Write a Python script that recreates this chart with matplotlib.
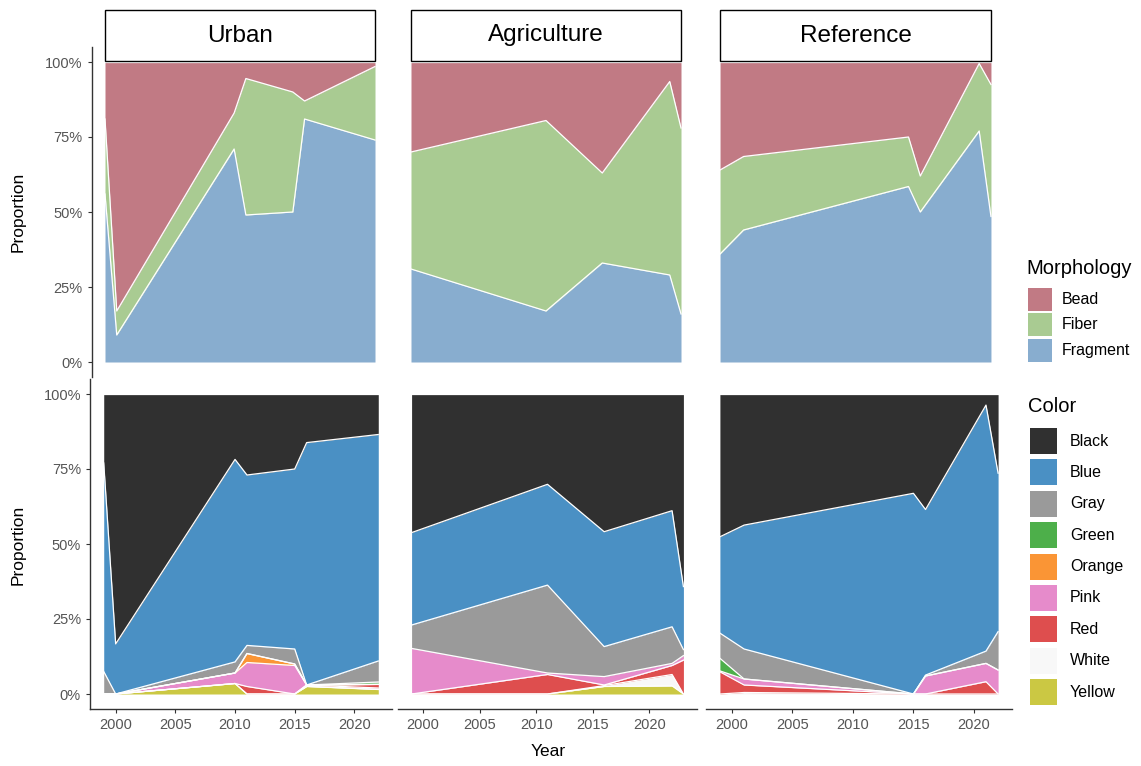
import numpy as np
import matplotlib
matplotlib.use("Agg")
import matplotlib.pyplot as plt
from matplotlib.patches import Rectangle
from matplotlib.transforms import blended_transform_factory

plt.rcParams['font.family'] = ['Liberation Sans', 'DejaVu Sans']

W, H = 1141, 766

sites = ["Urban", "Agriculture", "Reference"]

# morphology proportions per site
urban_years = [1999, 2000, 2010, 2011, 2015, 2016, 2022]
urban_fragment = [0.56, 0.09, 0.71, 0.49, 0.50, 0.81, 0.74]
urban_fiber = [0.25, 0.08, 0.12, 0.455, 0.40, 0.06, 0.245]
urban_bead = [0.19, 0.83, 0.17, 0.055, 0.10, 0.13, 0.015]

agri_years = [1999, 2011, 2016, 2022, 2023]
agri_fragment = [0.31, 0.17, 0.33, 0.29, 0.16]
agri_fiber = [0.39, 0.635, 0.30, 0.645, 0.62]
agri_bead = [0.30, 0.195, 0.37, 0.065, 0.22]

ref_years = [1999, 2001, 2015, 2016, 2021, 2022]
ref_fragment = [0.36, 0.44, 0.585, 0.50, 0.77, 0.485]
ref_fiber = [0.28, 0.245, 0.165, 0.12, 0.225, 0.44]
ref_bead = [0.36, 0.315, 0.25, 0.38, 0.005, 0.075]

morph_names = ["Bead", "Fiber", "Fragment"]
morph_colors = ["#C17A84", "#A9CB92", "#88ADCF"]

# color proportions per site (legend order: Black ... Yellow)
color_names = ["Black", "Blue", "Gray", "Green", "Orange", "Pink", "Red", "White", "Yellow"]
color_colors = ["#303030", "#4A90C4", "#9A9A9A", "#4DAF4A", "#FA9535",
                "#E68BCB", "#DE4E4E", "#F8F8F8", "#CBC843"]

urban_col = {
    "Black":  [0.23, 0.833, 0.218, 0.27, 0.25, 0.162, 0.135],
    "Blue":   [0.695, 0.167, 0.675, 0.568, 0.60, 0.808, 0.755],
    "Gray":   [0.075, 0, 0.037, 0.027, 0.05, 0, 0.07],
    "Green":  [0, 0, 0, 0, 0, 0, 0.008],
    "Orange": [0, 0, 0, 0.03, 0.005, 0, 0],
    "Pink":   [0, 0, 0.035, 0.08, 0.095, 0, 0],
    "Red":    [0, 0, 0, 0.025, 0, 0, 0.012],
    "White":  [0, 0, 0, 0, 0, 0.005, 0.005],
    "Yellow": [0, 0, 0.035, 0, 0, 0.025, 0.015],
}
agri_col = {
    "Black":  [0.462, 0.301, 0.459, 0.389, 0.642],
    "Blue":   [0.308, 0.336, 0.383, 0.387, 0.21],
    "Gray":   [0.078, 0.293, 0.10, 0.122, 0.02],
    "Green":  [0, 0, 0, 0, 0],
    "Orange": [0, 0, 0, 0, 0],
    "Pink":   [0.152, 0.005, 0.028, 0.007, 0.015],
    "Red":    [0, 0.065, 0.002, 0.03, 0.113],
    "White":  [0, 0, 0.003, 0.038, 0],
    "Yellow": [0, 0, 0.025, 0.027, 0],
}
ref_col = {
    "Black":  [0.476, 0.437, 0.331, 0.385, 0.037, 0.264],
    "Blue":   [0.321, 0.413, 0.669, 0.552, 0.82, 0.528],
    "Gray":   [0.084, 0.10, 0, 0.003, 0.041, 0.128],
    "Green":  [0.042, 0, 0, 0, 0, 0],
    "Orange": [0, 0, 0, 0, 0, 0],
    "Pink":   [0.003, 0.02, 0, 0.06, 0.061, 0.08],
    "Red":    [0.074, 0.025, 0, 0, 0.041, 0],
    "White":  [0, 0.005, 0, 0, 0, 0],
    "Yellow": [0, 0, 0, 0, 0, 0],
}

morph_data = [
    (urban_years, {"Bead": urban_bead, "Fiber": urban_fiber, "Fragment": urban_fragment}),
    (agri_years, {"Bead": agri_bead, "Fiber": agri_fiber, "Fragment": agri_fragment}),
    (ref_years, {"Bead": ref_bead, "Fiber": ref_fiber, "Fragment": ref_fragment}),
]
color_data = [(urban_years, urban_col), (agri_years, agri_col), (ref_years, ref_col)]

fig = plt.figure(figsize=(W / 100, H / 100), dpi=100)


def add_px_axes(x0, x1, y0, y1):
    return fig.add_axes([x0 / W, 1 - y1 / H, (x1 - x0) / W, (y1 - y0) / H])


def stacked_area(ax, years, values, names, colors):
    # first level sits on top, like position="fill" in ggplot
    x = np.array(years, dtype=float)
    base = np.zeros(len(x))
    for name, col in reversed(list(zip(names, colors))):
        v = np.array(values[name], dtype=float)
        if not v.any():
            continue
        top = base + v
        ax.fill_between(x, base, top, color=col, lw=0, zorder=2)
        ax.plot(x, top, color="white", lw=0.9, zorder=3)
        base = top
    pad = (x.max() - x.min()) * 0.05
    ax.set_xlim(x.min() - pad, x.max() + pad)
    ax.set_ylim(-0.05, 1.05)


def style_axes(ax, show_y, show_x):
    for s in ax.spines.values():
        s.set_visible(False)
    ax.set_yticks([0, 0.25, 0.5, 0.75, 1.0])
    ax.set_yticklabels(["0%", "25%", "50%", "75%", "100%"])
    ax.set_xticks([2000, 2005, 2010, 2015, 2020])
    ax.tick_params(colors="#333333", labelcolor="#555555", labelsize=10.5, length=3, width=0.8)
    if show_y:
        ax.spines["left"].set_visible(True)
        ax.spines["left"].set_color("#333333")
        ax.spines["left"].set_linewidth(1.0)
    else:
        ax.tick_params(axis="y", left=False, labelleft=False)
    if show_x:
        ax.spines["bottom"].set_visible(True)
        ax.spines["bottom"].set_color("#333333")
        ax.spines["bottom"].set_linewidth(1.0)
    else:
        ax.tick_params(axis="x", bottom=False, labelbottom=False)
    ax.set_facecolor("white")


top_px = [(91.5, 388.5), (397.5, 694.5), (706.5, 1004.5)]
bottom_px = [(90, 392), (398, 697), (706, 1012)]

for i, site in enumerate(sites):
    # morphology row
    ax = add_px_axes(top_px[i][0], top_px[i][1], 47, 377)
    years, vals = morph_data[i]
    stacked_area(ax, years, vals, morph_names, morph_colors)
    style_axes(ax, show_y=(i == 0), show_x=False)

    # facet strip across the data range
    tr = blended_transform_factory(ax.transData, ax.transAxes)
    y_lo = (377 - 61) / 330
    h = 51 / 330
    strip = Rectangle((min(years), y_lo), max(years) - min(years), h, transform=tr,
                      facecolor="white", edgecolor="black", lw=1.0, clip_on=False, zorder=10)
    ax.add_patch(strip)
    ax.text((min(years) + max(years)) / 2, y_lo + h / 2, site, transform=tr,
            ha="center", va="center", fontsize=17.5, zorder=11)

    # color row
    ax2 = add_px_axes(bottom_px[i][0], bottom_px[i][1], 379, 709)
    years, vals = color_data[i]
    stacked_area(ax2, years, vals, color_names, color_colors)
    style_axes(ax2, show_y=(i == 0), show_x=True)

# overlay in pixel coordinates for titles and legends
ov = fig.add_axes([0, 0, 1, 1], zorder=20)
ov.set_xlim(0, W)
ov.set_ylim(H, 0)
ov.axis("off")

ov.text(18, 212, "Proportion", rotation=90, ha="center", va="center", fontsize=12.5)
ov.text(18, 545, "Proportion", rotation=90, ha="center", va="center", fontsize=12.5)
ov.text(548, 752, "Year", ha="center", va="center", fontsize=12.5)

ov.text(1026, 268, "Morphology", ha="left", va="center", fontsize=14.5)
for k, (name, col) in enumerate(zip(morph_names, morph_colors)):
    yc = 299 + k * 25.5
    ov.add_patch(Rectangle((1028, yc - 11.5), 24, 23, facecolor=col, edgecolor="none"))
    ov.text(1062, yc, name, ha="left", va="center", fontsize=11.5)

ov.text(1028, 407, "Color", ha="left", va="center", fontsize=14.5)
for k, (name, col) in enumerate(zip(color_names, color_colors)):
    yc = 441 + k * 31.4
    ov.add_patch(Rectangle((1030, yc - 13), 27, 26, facecolor=col, edgecolor="none"))
    ov.text(1070, yc, name, ha="left", va="center", fontsize=11.5)

fig.savefig("out.png", dpi=100)
